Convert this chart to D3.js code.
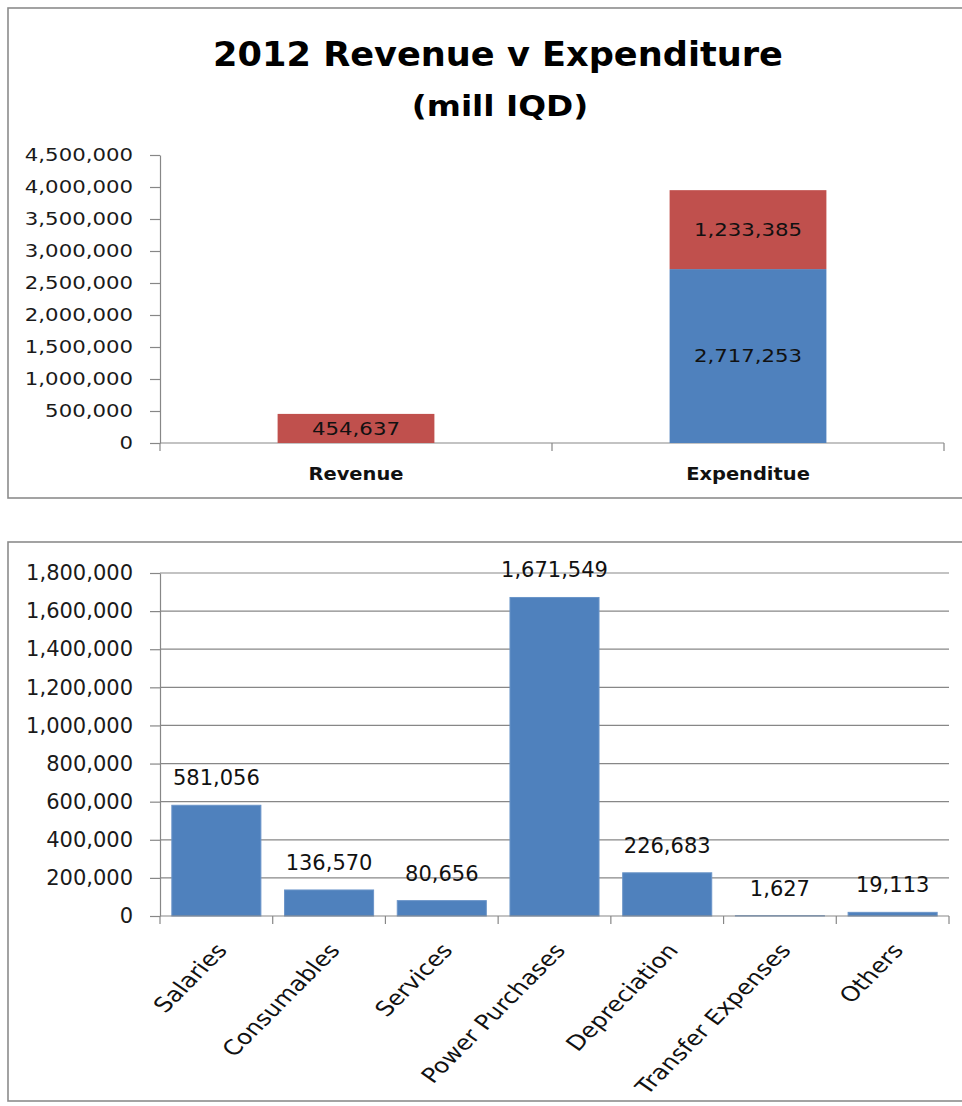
<!DOCTYPE html>
<html>
<head>
<meta charset="utf-8">
<script src="https://cdn.jsdelivr.net/npm/d3@7"></script>
<style>
  body { margin: 0; background: #fff; }
  text { font-family: "DejaVu Sans", Verdana, sans-serif; }
</style>
</head>
<body>
<svg id="chart" width="962" height="1106"></svg>
<script>
// ---- data ----
const summaryCategories = ["Revenue", "Expenditue"];
const lowerSegment = [0, 2717253];        // blue part of each stacked bar
const upperSegment = [454637, 1233385];   // red part of each stacked bar
const summaryTicks = [0, 500000, 1000000, 1500000, 2000000, 2500000, 3000000, 3500000, 4000000, 4500000];

const expenseCategories = ["Salaries", "Consumables", "Services", "Power Purchases", "Depreciation", "Transfer Expenses", "Others"];
const expenseValues = [581056, 136570, 80656, 1671549, 226683, 1627, 19113];
const expenseTicks = [0, 200000, 400000, 600000, 800000, 1000000, 1200000, 1400000, 1600000, 1800000];

const titleText = "2012 Revenue v Expenditure";
const subtitleText = "(mill IQD)";

// ---- style ----
const BLUE = "#4f81bd", RED = "#c0504d", AXIS = "#878787", FRAME = "#8c8c8c", INK = "#1a1a1a";
const fmt = d3.format(",");

const svg = d3.select("#chart");
svg.append("rect").attr("width", 962).attr("height", 1106).attr("fill", "#fff");

// widen glyphs horizontally while keeping the anchor point
function stretch(sel, k) {
  sel.each(function () {
    const w = this.getComputedTextLength();
    d3.select(this).attr("textLength", w * k).attr("lengthAdjust", "spacingAndGlyphs");
  });
}

// ================= top panel: stacked revenue / expenditure =================
svg.append("rect")
  .attr("x", 8).attr("y", 8).attr("width", 1000).attr("height", 490)
  .attr("fill", "none").attr("stroke", FRAME).attr("stroke-width", 1.6);

const title = svg.append("text")
  .attr("x", 498).attr("y", 66).attr("text-anchor", "middle")
  .attr("font-size", 33).attr("font-weight", "bold").attr("fill", "#000")
  .text(titleText);
stretch(title, 1.065);

const subtitle = svg.append("text")
  .attr("x", 500).attr("y", 116).attr("text-anchor", "middle")
  .attr("font-size", 28).attr("font-weight", "bold").attr("fill", "#000")
  .text(subtitleText);
stretch(subtitle, 1.17);

const yTop = d3.scaleLinear().domain([0, 4500000]).range([443, 155]);
const xTop = d3.scaleBand().domain(summaryCategories).range([160, 944])
  .paddingInner(0.6).paddingOuter(0.3);

const topAxisY = svg.append("g").attr("transform", "translate(160,0)")
  .call(d3.axisLeft(yTop).tickValues(summaryTicks).tickFormat(fmt)
    .tickSize(10).tickSizeOuter(0).tickPadding(17));
topAxisY.selectAll("path, line").attr("stroke", AXIS).attr("stroke-width", 1.2);
topAxisY.selectAll("text").attr("font-size", 17).attr("fill", INK)
  .style("font-family", '"DejaVu Sans", sans-serif');
stretch(topAxisY.selectAll("text"), 1.25);

// category axis with boundary ticks
const topBase = yTop(0);
svg.append("line").attr("x1", xTop.range()[0]).attr("x2", xTop.range()[1])
  .attr("y1", topBase).attr("y2", topBase).attr("stroke", AXIS).attr("stroke-width", 1.2);
svg.selectAll(".topTick").data(d3.range(summaryCategories.length + 1)).join("line")
  .attr("x1", i => xTop.range()[0] + i * xTop.step())
  .attr("x2", i => xTop.range()[0] + i * xTop.step())
  .attr("y1", topBase).attr("y2", topBase + 8)
  .attr("stroke", AXIS).attr("stroke-width", 1.2);

const topRows = summaryCategories.map((c, i) => ({ category: c, lower: lowerSegment[i], upper: upperSegment[i] }));
const stacked = d3.stack().keys(["lower", "upper"])(topRows);
const segColor = { lower: BLUE, upper: RED };

stacked.forEach(layer => {
  const pts = layer.map(p => ({ p, key: layer.key, value: p[1] - p[0], category: p.data.category }))
    .filter(d => d.value > 0);
  svg.append("g").selectAll("rect").data(pts).join("rect")
    .attr("x", d => xTop(d.category))
    .attr("width", xTop.bandwidth())
    .attr("y", d => yTop(d.p[1]))
    .attr("height", d => yTop(d.p[0]) - yTop(d.p[1]))
    .attr("fill", segColor[layer.key]);
  const labels = svg.append("g").selectAll("text").data(pts).join("text")
    .attr("x", d => xTop(d.category) + xTop.bandwidth() / 2)
    .attr("y", d => (yTop(d.p[0]) + yTop(d.p[1])) / 2)
    .attr("dy", "0.36em")
    .attr("text-anchor", "middle").attr("font-size", 17).attr("fill", "#111")
    .text(d => fmt(d.value));
  stretch(labels, 1.25);
});

const topCatLabels = svg.append("g").selectAll("text").data(summaryCategories).join("text")
  .attr("x", d => xTop(d) + xTop.bandwidth() / 2)
  .attr("y", 480)
  .attr("text-anchor", "middle").attr("font-size", 18).attr("font-weight", "bold").attr("fill", "#111")
  .text(d => d);
stretch(topCatLabels, 1.08);

// ================= bottom panel: expenditure breakdown =================
svg.append("rect")
  .attr("x", 8).attr("y", 542).attr("width", 1000).attr("height", 559)
  .attr("fill", "none").attr("stroke", FRAME).attr("stroke-width", 1.6);

const yBot = d3.scaleLinear().domain([0, 1800000]).range([916, 573]);
const xBot = d3.scaleBand().domain(expenseCategories).range([160, 949])
  .paddingInner(0.21).paddingOuter(0.105);

// horizontal gridlines
svg.append("g").selectAll("line").data(expenseTicks.filter(t => t > 0)).join("line")
  .attr("x1", 160).attr("x2", xBot.range()[1])
  .attr("y1", d => yBot(d)).attr("y2", d => yBot(d))
  .attr("stroke", AXIS).attr("stroke-width", 1.2);

const botAxisY = svg.append("g").attr("transform", "translate(160,0)")
  .call(d3.axisLeft(yBot).tickValues(expenseTicks).tickFormat(fmt)
    .tickSize(10).tickSizeOuter(0).tickPadding(17));
botAxisY.selectAll("path, line").attr("stroke", AXIS).attr("stroke-width", 1.2);
botAxisY.selectAll("text").attr("font-size", 21).attr("fill", INK)
  .style("font-family", '"DejaVu Sans", sans-serif');

// bars (thin outline keeps the smallest values visible)
svg.append("g").selectAll("rect").data(expenseCategories).join("rect")
  .attr("x", d => xBot(d))
  .attr("width", xBot.bandwidth())
  .attr("y", (d, i) => yBot(expenseValues[i]))
  .attr("height", (d, i) => yBot(0) - yBot(expenseValues[i]))
  .attr("fill", BLUE).attr("stroke", "#6a94c8").attr("stroke-width", 1);

// category axis
const botBase = yBot(0);
svg.append("line").attr("x1", xBot.range()[0]).attr("x2", xBot.range()[1])
  .attr("y1", botBase).attr("y2", botBase).attr("stroke", AXIS).attr("stroke-width", 1.2);
svg.selectAll(".botTick").data(d3.range(expenseCategories.length + 1)).join("line")
  .attr("x1", i => xBot.range()[0] + i * xBot.step())
  .attr("x2", i => xBot.range()[0] + i * xBot.step())
  .attr("y1", botBase).attr("y2", botBase + 8)
  .attr("stroke", AXIS).attr("stroke-width", 1.2);

// value labels above bars
svg.append("g").selectAll("text").data(expenseCategories).join("text")
  .attr("x", d => xBot(d) + xBot.bandwidth() / 2)
  .attr("y", (d, i) => yBot(expenseValues[i]) - 20)
  .attr("text-anchor", "middle").attr("font-size", 21).attr("fill", "#111")
  .text((d, i) => fmt(expenseValues[i]));

// slanted category labels: rotate, then widen horizontally so the run stays at 45°
const labelWiden = 1.2;
const labelAngle = Math.atan(labelWiden) * 180 / Math.PI;
svg.append("g").selectAll("text").data(expenseCategories).join("text")
  .attr("transform", d => `translate(${xBot(d) + xBot.bandwidth() / 2 + 12},${botBase + 35}) scale(${labelWiden},1) rotate(${-labelAngle})`)
  .attr("text-anchor", "end").attr("font-size", 20.7).attr("fill", "#111")
  .text(d => d);
</script>
</body>
</html>
